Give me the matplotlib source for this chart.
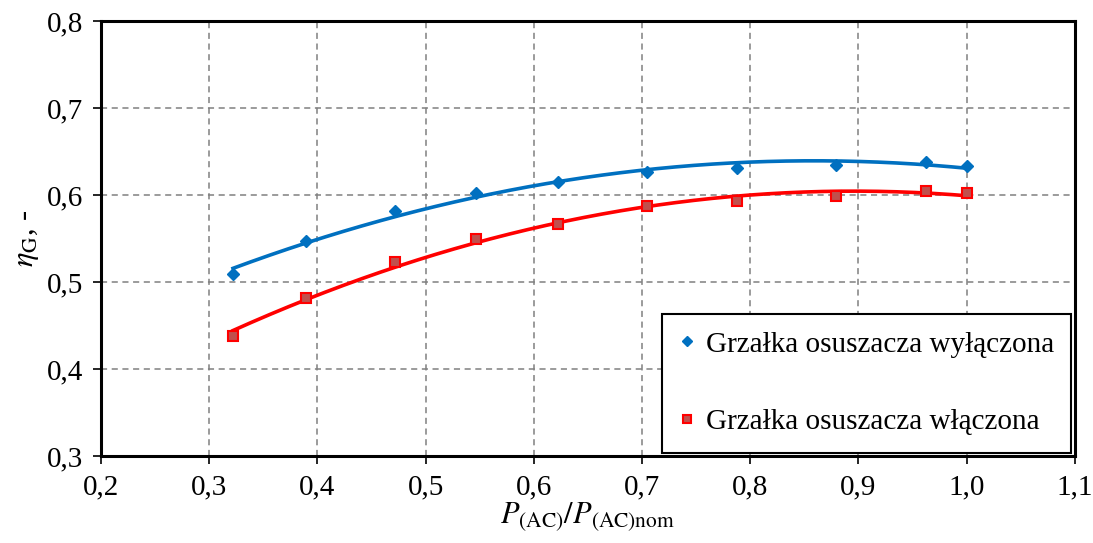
import numpy as np
import matplotlib.pyplot as plt
from matplotlib.ticker import FuncFormatter, MultipleLocator

plt.rcParams['font.family'] = ['Liberation Serif', 'DejaVu Serif']
plt.rcParams['mathtext.fontset'] = 'stix'

# relative load P(AC)/P(AC)nom
load = [0.322, 0.389, 0.472, 0.547, 0.622, 0.705, 0.788, 0.879, 0.962, 1.0]
# efficiency with dryer heater off / on
eta_off = [0.509, 0.547, 0.582, 0.603, 0.615, 0.627, 0.631, 0.635, 0.638, 0.634]
eta_on = [0.438, 0.482, 0.523, 0.550, 0.567, 0.587, 0.593, 0.599, 0.605, 0.603]

label_off = 'Grzałka osuszacza wyłączona'
label_on = 'Grzałka osuszacza włączona'

blue = '#0070C0'
red = '#FF0000'

fig = plt.figure(figsize=(10.93, 5.43), dpi=100)
ax = fig.add_axes([0.0924, 0.160, 0.891, 0.801])

# 2nd order trend lines, like a spreadsheet polynomial trendline
xs = np.linspace(min(load), max(load), 200)
for ys, col in [(eta_off, blue), (eta_on, red)]:
    coef = np.polyfit(load, ys, 2)
    ax.plot(xs, np.polyval(coef, xs), color=col, lw=2.6, zorder=3)

ax.plot(load, eta_off, ls='none', marker='D', ms=6.5, color=blue,
        label=label_off, zorder=4)
ax.plot(load, eta_on, ls='none', marker='s', ms=7.5, mfc='#C0504D',
        mec=red, mew=1.5, label=label_on, zorder=4)

ax.set_xlim(0.2, 1.1)
ax.set_ylim(0.3, 0.8)
ax.xaxis.set_major_locator(MultipleLocator(0.1))
ax.yaxis.set_major_locator(MultipleLocator(0.1))
comma = FuncFormatter(lambda v, p: ('%.1f' % v).replace('.', ','))
ax.xaxis.set_major_formatter(comma)
ax.yaxis.set_major_formatter(comma)
ax.tick_params(labelsize=21, direction='out', length=6, width=1.2, pad=7)

ax.grid(True, color='#808080', ls=(0, (4, 3)), lw=1.1)
ax.set_axisbelow(True)
for s in ax.spines.values():
    s.set_linewidth(2.2)
    s.set_color('black')

ax.set_xlabel(r'$P_{(\mathrm{AC})}/P_{(\mathrm{AC})\mathrm{nom}}$', fontsize=22, labelpad=0)
ax.set_ylabel(r'$\eta_{\mathrm{G}}$, -', fontsize=22, labelpad=4)

leg = ax.legend(loc='lower right', fontsize=21, frameon=True, fancybox=False,
                edgecolor='black', framealpha=1, borderpad=0.6,
                labelspacing=1.75, handlelength=0.5, handletextpad=0.4,
                borderaxespad=0.12, markerscale=0.85)
leg.get_frame().set_linewidth(1.5)

fig.savefig('out.png', dpi=100)
